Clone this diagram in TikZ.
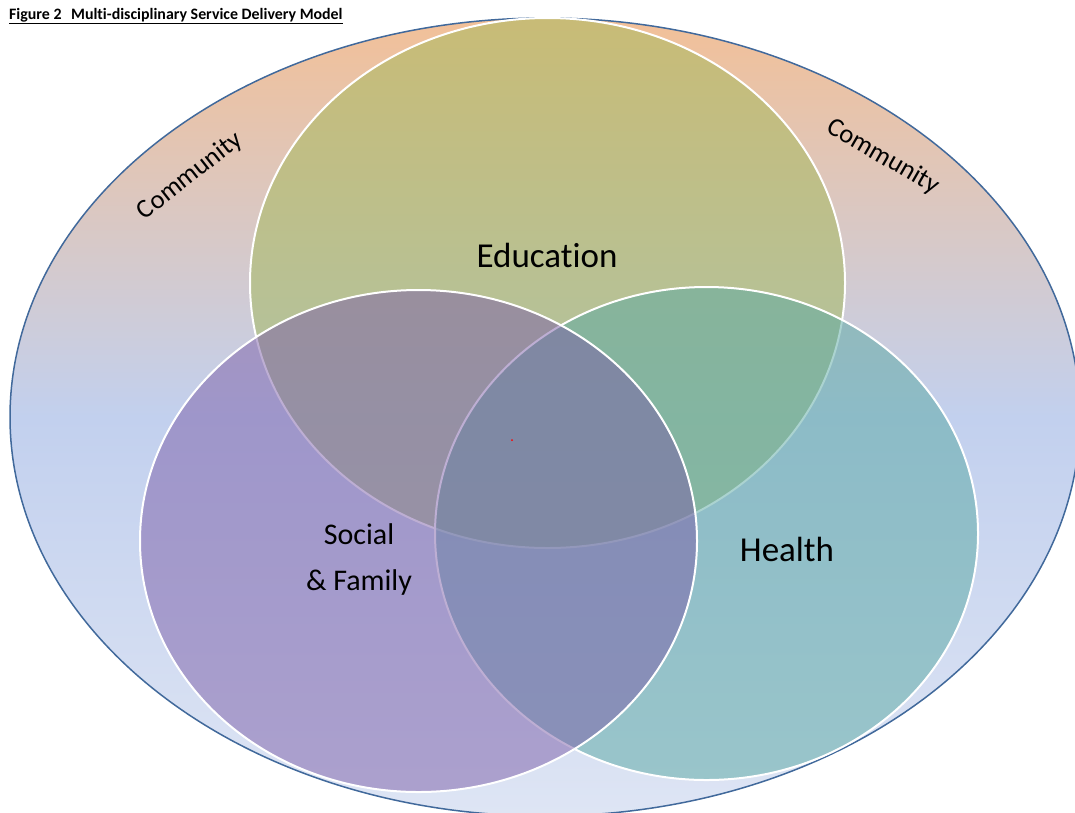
\documentclass[tikz,border=0pt]{standalone}
\usepackage{fontspec}
\setmainfont{Carlito}[Ligatures=NoCommon]
\usetikzlibrary{shapes.geometric}

\definecolor{rimblue}{RGB}{65,105,155}
\definecolor{peach}{RGB}{242,192,152}
\definecolor{skyblue}{RGB}{194,208,238}
\definecolor{paleblue}{RGB}{222,229,244}
\definecolor{edugreen}{RGB}{160,184,86}
\definecolor{healthteal}{RGB}{88,168,162}
\definecolor{socialpurple}{RGB}{124,94,168}

\begin{document}
\begin{tikzpicture}[x=1pt,y=-1pt,
  ring/.style={ellipse, draw=white, line width=2pt, fill opacity=0.5, inner sep=0pt},
  bigtext/.style={font=\fontsize{35}{40}\selectfont},
  commtext/.style={font=\fontsize{26.5}{30}\selectfont}]

\useasboundingbox (0,0) rectangle (1075,812);

% community ring
\node[ellipse, draw=rimblue, line width=1.5pt, top color=peach, bottom color=paleblue, middle color=skyblue,
      minimum width=1070pt, minimum height=798pt, inner sep=0pt] (community) at (545,417) {};

% the three services
\node[ring, fill=edugreen, minimum width=595pt, minimum height=530pt] (edu) at (547.5,283) {};
\node[ring, fill=healthteal, minimum width=543pt, minimum height=493pt] (health) at (706.5,533.5) {};
\node[ring, fill=socialpurple, minimum width=557pt, minimum height=502pt] (social) at (418.5,541) {};

\fill[red] (512,440) circle (1pt);

\node[bigtext] (edulabel) at (547,255) {Education};
\node[bigtext] (healthlabel) at (787,549) {Health};
\node[font=\fontsize{30}{46}\selectfont, align=center] (sociallabel) at (359,559) {Social\\\& Family};

\node[commtext, rotate=38] (commleft) at (190,176) {Community};
\node[commtext, rotate=-30] (commright) at (883,157) {Community};

\node[anchor=base west, inner sep=0pt, font=\bfseries\fontsize{15.9}{18}\selectfont] (title) at (9,19)
  {\underline{Figure 2\hspace{0.6em}Multi-disciplinary Service Delivery Model}};

\end{tikzpicture}
\end{document}
